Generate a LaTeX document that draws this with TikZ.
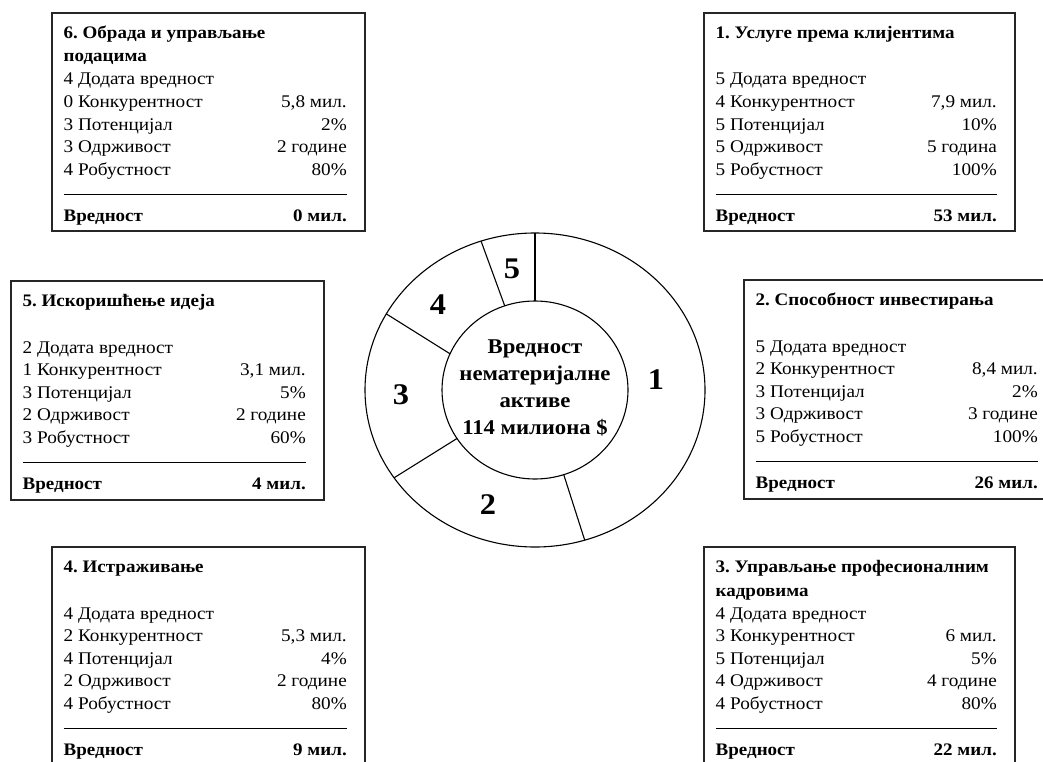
\documentclass[tikz,border=0pt]{standalone}
\usepackage{fontspec}
\setmainfont{Liberation Serif}[FakeStretch=1.08]
\usetikzlibrary{calc,fit}
\frenchspacing

\tikzset{
  frame/.style={draw=black!85, line width=1.2pt, inner sep=0pt},
  rule/.style={line width=1.2pt},
  ringline/.style={line width=1.1pt},
  head/.style={font=\fontsize{17.6}{21}\selectfont\bfseries, anchor=base west, inner sep=0pt},
  cell/.style={font=\fontsize{17.8}{21}\selectfont, inner sep=0pt},
  hubtext/.style={font=\fontsize{21}{25}\selectfont\bfseries, anchor=base, inner sep=0pt},
  seg/.style={font=\fontsize{30}{33}\selectfont\bfseries, anchor=center, inner sep=0pt},
}

% #1 name, #2 left, #3 top, #4 right, #5 bottom, #6/#7 heading lines,
% #8 rows (label/value), #9 total value
\newcommand\assetbox[9]{%
  \coordinate (#1-nw) at (#2,#3);
  \coordinate (#1-se) at (#4,#5);
  \node[frame, fit=(#1-nw)(#1-se)] (#1) {};
  \node[head] (#1-h1) at ({#2+11.5},{#3+25.5}) {#6};
  \node[head] (#1-h2) at ({#2+11.5},{#3+49}) {#7};
  \foreach \lt/\rt [count=\i] in {#8} {
    \node[cell, anchor=base west] (#1-l\i) at ({#2+11.5},{#3+72+(\i-1)*22.6}) {\lt};
    \node[cell, anchor=base east] (#1-r\i) at ({#4-18},{#3+72+(\i-1)*22.6}) {\rt};
  }
  \coordinate (#1-a) at ({#2+11.5},{#3+181.5});
  \coordinate (#1-b) at ({#4-18},{#3+181.5});
  \draw[rule] (#1-a) -- (#1-b);
  \node[head, anchor=base west] (#1-k) at ({#2+11.5},{#3+208.5}) {Вредност};
  \node[head, anchor=base east] (#1-v) at ({#4-18},{#3+208.5}) {#9};
}

\begin{document}
\begin{tikzpicture}[x=1pt,y=-1pt]
\useasboundingbox (0,0) rectangle (1043,762);
\fill[white] (0,0) rectangle (1043,762);
\clip (0,0) rectangle (1043,762);

% ring chart of the six asset groups
\coordinate (c) at (535,390);
\draw[ringline] (c) ellipse [x radius=170, y radius=157];
\draw[ringline] (c) ellipse [x radius=93, y radius=89];
\foreach \ta/\tb [count=\k] in {90/90, -72/-73, 213/214, 156/151, 109/108.5} {
  \coordinate (s\k-in) at ($(c)+({93*cos(\ta)},{-89*sin(\ta)})$);
  \coordinate (s\k-out) at ($(c)+({170*cos(\tb)},{-157*sin(\tb)})$);
  \draw[ringline] (s\k-in) -- (s\k-out);
}
\node[seg] (n1) at (656,380) {1};
\node[seg] (n2) at (488,505) {2};
\node[seg] (n3) at (401,395) {3};
\node[seg] (n4) at (438,305) {4};
\node[seg] (n5) at (512,269) {5};

\foreach \t [count=\j] in {Вредност, нематеријалне, активе, 114 милиона \$}
  \node[hubtext] (hub\j) at (535,{353+(\j-1)*27.3}) {\t};

% asset boxes
\assetbox{b6}{52}{13}{365}{231}{6. Обрада и управљање}{подацима}
  {4 Додата вредност/{}, 0 Конкурентност/{5,8 мил.}, 3 Потенцијал/2\%, 3 Одрживост/2 године, 4 Робустност/80\%}{0 мил.}
\assetbox{b1}{704}{13}{1015}{231}{1. Услуге према клијентима}{}
  {5 Додата вредност/{}, 4 Конкурентност/{7,9 мил.}, 5 Потенцијал/10\%, 5 Одрживост/5 година, 5 Робустност/100\%}{53 мил.}
\assetbox{b5}{11}{281}{324}{500}{5. Искоришћење идеја}{}
  {2 Додата вредност/{}, 1 Конкурентност/{3,1 мил.}, 3 Потенцијал/5\%, 2 Одрживост/2 године, 3 Робустност/60\%}{4 мил.}
\assetbox{b2}{744}{280}{1056}{499}{2. Способност инвестирања}{}
  {5 Додата вредност/{}, 2 Конкурентност/{8,4 мил.}, 3 Потенцијал/2\%, 3 Одрживост/3 године, 5 Робустност/100\%}{26 мил.}
\assetbox{b4}{52}{547}{365}{780}{4. Истраживање}{}
  {4 Додата вредност/{}, 2 Конкурентност/{5,3 мил.}, 4 Потенцијал/4\%, 2 Одрживост/2 године, 4 Робустност/80\%}{9 мил.}
\assetbox{b3}{704}{547}{1015}{780}{3. Управљање професионалним}{кадровима}
  {4 Додата вредност/{}, 3 Конкурентност/6 мил., 5 Потенцијал/5\%, 4 Одрживост/4 године, 4 Робустност/80\%}{22 мил.}
\end{tikzpicture}
\end{document}
